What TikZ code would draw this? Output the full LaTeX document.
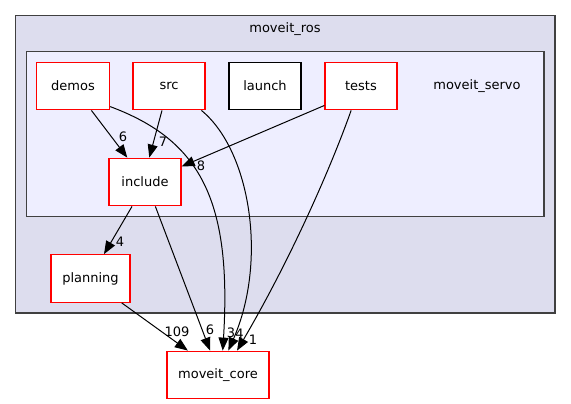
\documentclass[tikz,border=0pt]{standalone}
\usepackage{fontspec}
\setmainfont{DejaVu Sans}
\usepackage{tikz}
\usetikzlibrary{calc, arrows.meta, positioning}

\begin{document}
\begin{tikzpicture}[x=1pt, y=-1pt,
        dir/.style={draw=red, fill=white, line width=1.3pt, minimum width=72pt, minimum height=47.5pt, inner sep=0pt, font=\fontsize{13}{15}\selectfont},
        dep/.style={-{Triangle[length=13pt, width=10pt]}, line width=1pt},
        num/.style={inner sep=0pt, font=\fontsize{13}{15}\selectfont}]
            \definecolor{rosfill}{RGB}{221, 221, 238}
            \definecolor{servofill}{RGB}{238, 238, 255}
            \definecolor{frame}{RGB}{64, 64, 64}
        \useasboundingbox (0,0) rectangle (571,404);

        % clusters
        \filldraw[fill=rosfill, draw=frame, line width=1.3pt] (15.5,15.5) rectangle (555,313);
        \node[num] (ros) at (285,29){moveit\_ros};
        \filldraw[fill=servofill, draw=frame, line width=1.3pt] (26.5,51.5) rectangle (544,216.5);
        \node[num] (servo) at (477,86){moveit\_servo};

        \node[dir, minimum width=73pt] (demos) at (73,86){demos};
        \node[dir] (src) at (169,86){src};
        \node[dir, draw=black] (launch) at (265,86){launch};
        \node[dir] (tests) at (361,86){tests};
        \node[dir] (include) at (145,182){include};
        \node[dir, minimum width=79pt] (planning) at (90.5,278.5){planning};
        \node[dir, minimum width=102pt] (core) at (218,375){moveit\_core};

        \draw[dep] (demos.-53) -- (include.126);
        \draw[dep] (src.-106) -- (include.80);
        \draw[dep] (tests.-152) -- (include.23);
        \draw[dep] (include.-118) -- (planning.61);
        \draw[dep] (include.-67) -- (core.108);
        \draw[dep] (planning.-38) -- (core.141);
        \draw[dep] (demos.-29) .. controls (200,140) and (232,200) .. (core.79);
        \draw[dep] (src.-37) .. controls (250,150) and (268,260) .. (core.67);
        \draw[dep] (tests.-112) .. controls (330,170) and (290,260) .. (core.52);

        \node[num] (_) at (123,137){6};
        \node[num] (_) at (163,142){7};
        \node[num] (_) at (201,166){8};
        \node[num] (_) at (120,242){4};
        \node[num] (_) at (210,330){6};
        \node[num] (_) at (177,332){109};
        \node[num] (_) at (231,333){3};
        \node[num] (_) at (239.5,334){4};
        \node[num] (_) at (253,340){1};
    \end{tikzpicture}
\end{document}
